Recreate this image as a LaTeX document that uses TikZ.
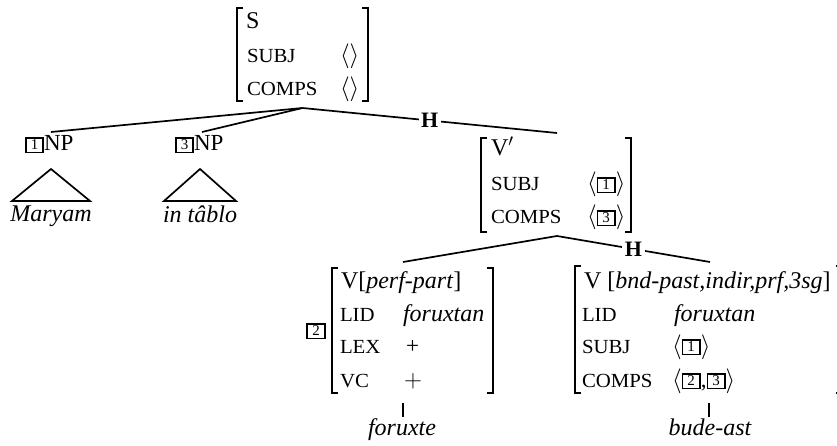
\documentclass[tikz,border=0pt]{standalone}
\usepackage{fontspec}
\setmainfont{Liberation Serif}
\newfontfamily\scfont[FakeStretch=1.04]{Liberation Serif}
\newcommand\fsc[1]{{\scfont\fontsize{20}{20}\selectfont #1}}
\newcommand\itx[1]{{\fontsize{24}{24}\selectfont\itshape #1}}
\newcommand\tagbox[1]{\raisebox{1.2pt}{{\setlength\fboxsep{0pt}\setlength\fboxrule{1.8pt}\fbox{\makebox[15.5pt]{\rule[-1.8pt]{0pt}{13pt}\fontsize{15}{15}\selectfont #1}}}}}
\begin{document}
\begin{tikzpicture}[x=1pt,y=-1pt,
  every node/.style={inner sep=0pt,outer sep=0pt,font=\fontsize{23}{23}\selectfont},
  txt/.style={anchor=base west},
  ctr/.style={anchor=base},
  edge/.style={line width=1.7pt},
  brk/.style={line width=1.3pt},
  hlab/.style={fill=white,inner sep=2.5pt,font=\fontsize{22}{22}\selectfont\bfseries},
  mat/.style={draw=none,minimum width=#1,anchor=north west}]
\useasboundingbox (0,0) rectangle (837,446);
% ---- matrix frames (invisible named nodes) ----
\node[mat=131pt,minimum height=93pt] (Sm) at (237,8) {};
\node[mat=150pt,minimum height=94pt] (Vpm) at (481,138) {};
\node[mat=161pt,minimum height=125pt] (Lm) at (332,268) {};
\node[mat=267pt,minimum height=127pt] (Rm) at (575,266) {};
% brackets
\foreach \m in {Sm,Vpm,Lm,Rm}{
  \draw[brk] ([xshift=6pt]\m.north west) -- (\m.north west) -- (\m.south west) -- ([xshift=6pt]\m.south west);
  \draw[brk] ([xshift=-6pt]\m.north east) -- (\m.north east) -- (\m.south east) -- ([xshift=-6pt]\m.south east);
}
% ---- S matrix ----
\node[txt] (s1) at (246,29) {{\fontsize{24}{24}\selectfont S}};
\node[txt] (s2) at (247,63) {\fsc{SUBJ}};
\node[txt] (s2v) at (340,63) {$\langle\rangle$};
\node[txt] (s3) at (247,96) {\fsc{COMPS}};
\node[txt] (s3v) at (340,96) {$\langle\rangle$};
% ---- NPs ----
\node[txt] (np1) at (25,151) {\tagbox{1}NP};
\node[txt] (np3) at (175,151) {\tagbox{3}NP};
\node[ctr] (w1) at (51,222) {\itx{Maryam}};
\node[ctr] (w2) at (200,223) {\itx{in tâblo}};
\coordinate (t1a) at (51,169);
\coordinate (t3a) at (200,169);
\draw[edge] (t1a) -- (12,201) -- (90,201) -- cycle;
\draw[edge] (t3a) -- (164,201) -- (236,201) -- cycle;
% ---- V' matrix ----
\node[txt] (v1) at (491,156) {{\fontsize{24}{24}\selectfont V$'$}};
\node[txt] (v2) at (491,191) {\fsc{SUBJ}};
\node[txt] (v2v) at (587,191) {$\langle$\tagbox{1}$\rangle$};
\node[txt] (v3) at (491,224) {\fsc{COMPS}};
\node[txt] (v3v) at (587,224) {$\langle$\tagbox{3}$\rangle$};
% ---- left daughter ----
\node[txt] (l1) at (341,288) {{\fontsize{24}{24}\selectfont V[\textit{perf-part}]}};
\node[txt] (l2) at (340,321) {\fsc{LID}};
\node[txt] (l2v) at (403,321) {\itx{foruxtan}};
\node[txt] (l3) at (340,353) {\fsc{LEX}};
\node[txt] (l3v) at (406,353) {+};
\node[txt] (l4) at (340,387) {\fsc{VC}};
\node[txt] (l4v) at (404,387) {$+$};
\node[anchor=center] (tag2) at (316,331) {\tagbox{2}};
\node[ctr] (w3) at (402,435) {\itx{foruxte}};
% ---- right daughter ----
\node[txt] (r1) at (584,288) {{\fontsize{24}{24}\selectfont V [\textit{bnd-past,indir,prf,3sg}]}};
\node[txt] (r2) at (582,321) {\fsc{LID}};
\node[txt] (r2v) at (674,321) {\itx{foruxtan}};
\node[txt] (r3) at (582,353) {\fsc{SUBJ}};
\node[txt] (r3v) at (672,353) {$\langle$\tagbox{1}$\rangle$};
\node[txt] (r4) at (582,387) {\fsc{COMPS}};
\node[txt] (r4v) at (672,387) {$\langle$\tagbox{2},\tagbox{3}$\rangle$};
\node[ctr] (w4) at (710,435) {\itx{bude-ast}};
% ---- connectors ----
\coordinate (Sroot) at ([yshift=-7pt]Sm.south);
\coordinate (np1top) at (51,132);
\coordinate (np3top) at (202,132);
\coordinate (Vptop) at ([yshift=5pt]Vpm.north -| 557,0);
\draw[edge] (Sroot) -- (np1top);
\draw[edge] (Sroot) -- (np3top);
\draw[edge] (Sroot) -- (Vptop) node[midway,hlab] (h1) {H};
\coordinate (Vproot) at ([yshift=-4pt]Vpm.south -| 557,0);
\coordinate (Ltop) at ([yshift=6pt]Lm.north -| 403,0);
\coordinate (Rtop) at ([yshift=4pt]Rm.north -| 710,0);
\draw[edge] (Vproot) -- (Ltop);
\draw[edge] (Vproot) -- (Rtop) node[midway,hlab] (h2) {H};
\draw[edge] ([yshift=-10pt]Lm.south -| 403,0) -- ++(0,14);
\draw[edge] ([yshift=-10pt]Rm.south -| 709,0) -- ++(0,14);
\end{tikzpicture}
\end{document}
